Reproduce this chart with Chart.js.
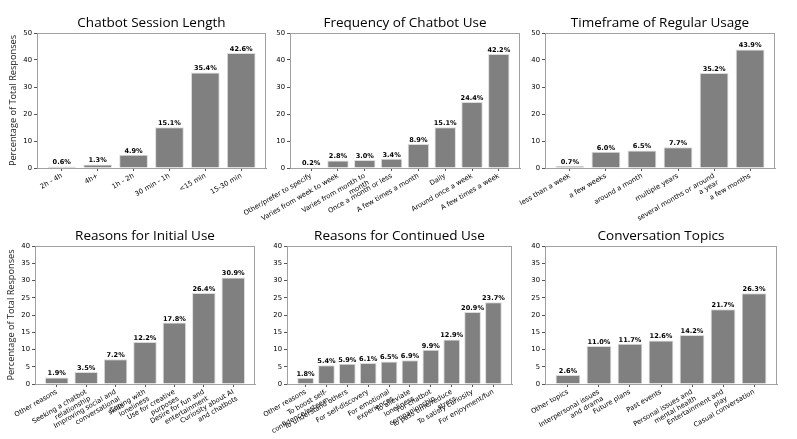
<!DOCTYPE html>
<html><head><meta charset="utf-8">
<script src="https://cdn.jsdelivr.net/npm/chart.js@4.4.1/dist/chart.umd.min.js"></script>
<style>
html,body{margin:0;padding:0;background:#fff;}
#wrap{position:relative;width:797px;height:439px;overflow:hidden;}
canvas{position:absolute;left:0;top:0;}
</style></head><body>
<div id="wrap">
<canvas id="c1" width="797" height="439"></canvas>
<canvas id="c2" width="797" height="439"></canvas>
<canvas id="c3" width="797" height="439"></canvas>
<canvas id="c4" width="797" height="439"></canvas>
<canvas id="c5" width="797" height="439"></canvas>
<canvas id="c6" width="797" height="439"></canvas>
</div>
<script>
// ---- data ----
const sessionLabels = ["2h - 4h","4h+","1h - 2h","30 min - 1h","<15 min","15-30 min"];
const sessionValues = [0.6,1.3,4.9,15.1,35.4,42.6];

const frequencyLabels = ["Other/prefer to specify","Varies from week to week",["Varies from month to","month"],"Once a month or less","A few times a month","Daily","Around once a week","A few times a week"];
const frequencyValues = [0.2,2.8,3.0,3.4,8.9,15.1,24.4,42.2];

const timeframeLabels = ["less than a week","a few weeks","around a month","multiple years",["several months or around","a year"],"a few months"];
const timeframeValues = [0.7,6.0,6.5,7.7,35.2,43.9];

const initialLabels = ["Other reasons",["Seeking a chatbot","relationship"],["Improving social and","conversational","skills"],["Coping with","loneliness"],["Use for creative","purposes"],["Desire for fun and","entertainment"],["Curiosity about AI","and chatbots"]];
const initialValues = [1.9,3.5,7.2,12.2,17.8,26.4,30.9];

const continuedLabels = ["Other reasons",["To boost self-","confidence/esteem."],"To understand others","For self-discovery",["For emotional","experiences"],["To alleviate","loneliness"],["For chatbot","companionship"],["To pass time/reduce","stress"],"To satisfy curiosity","For enjoyment/fun"];
const continuedValues = [1.8,5.4,5.9,6.1,6.5,6.9,9.9,12.9,20.9,23.7];

const topicLabels = ["Other topics",["Interpersonal issues","and drama"],"Future plans","Past events",["Personal issues and","mental health"],["Entertainment and","play"],"Casual conversation"];
const topicValues = [2.6,11.0,11.7,12.6,14.2,21.7,26.3];

const titles = ["Chatbot Session Length","Frequency of Chatbot Use","Timeframe of Regular Usage","Reasons for Initial Use","Reasons for Continued Use","Conversation Topics"];
const yAxisTitle = "Percentage of Total Responses";
const yMaxTop = 50, yStepTop = 10;
const yMaxBottom = 40, yStepBottom = 5;

// ---- layout (plot area boxes) ----
const W = 797, H = 439;
const panels = [
  {id:'c1', labels:sessionLabels, values:sessionValues, title:titles[0], box:[37,33,266,168], ymax:yMaxTop, step:yStepTop, ytitle:true},
  {id:'c2', labels:frequencyLabels, values:frequencyValues, title:titles[1], box:[290,33,520,168], ymax:yMaxTop, step:yStepTop, ytitle:false},
  {id:'c3', labels:timeframeLabels, values:timeframeValues, title:titles[2], box:[545,33,775,168], ymax:yMaxTop, step:yStepTop, ytitle:false},
  {id:'c4', labels:initialLabels, values:initialValues, title:titles[3], box:[35,246,255,384], ymax:yMaxBottom, step:yStepBottom, ytitle:true},
  {id:'c5', labels:continuedLabels, values:continuedValues, title:titles[4], box:[287,246,512,384], ymax:yMaxBottom, step:yStepBottom, ytitle:false},
  {id:'c6', labels:topicLabels, values:topicValues, title:titles[5], box:[545,246,777,384], ymax:yMaxBottom, step:yStepBottom, ytitle:false},
];

const frameAndLabels = {
  id:'frameAndLabels',
  afterDatasetsDraw(chart){
    const ctx = chart.ctx, a = chart.chartArea;
    ctx.save();
    ctx.strokeStyle = '#a0a0a0';
    ctx.lineWidth = 1;
    ctx.strokeRect(Math.round(a.left)+0.5, Math.round(a.top)+0.5, Math.round(a.right-a.left)-1, Math.round(a.bottom-a.top));
    const meta = chart.getDatasetMeta(0);
    const vals = chart.data.datasets[0].data;
    ctx.fillStyle = '#000';
    ctx.font = 'bold 6.6px "DejaVu Sans"';
    ctx.textAlign = 'center';
    ctx.textBaseline = 'bottom';
    meta.data.forEach((el, i) => {
      ctx.fillText(vals[i].y.toFixed(1) + '%', el.x, el.y - 0.5);
    });
    ctx.font = '13.5px "Open Sans"';
    ctx.fillStyle = '#000';
    ctx.textBaseline = 'alphabetic';
    ctx.fillText(chart.options.plugins.panelTitle.text, (a.left + a.right)/2, a.top - 6);
    ctx.restore();
  }
};

panels.forEach(p => {
  const n = p.labels.length;
  const span = (n - 1) + 0.8;
  const xmin = -0.4 - 0.05*span, xmax = (n - 1) + 0.4 + 0.05*span;
  const yW = p.ytitle ? 37 : 25;
  const xH = 60;
  const [L,T,R,B] = p.box;
  new Chart(document.getElementById(p.id), {
    type:'bar',
    data:{ datasets:[{ data:p.values.map((v,i)=>({x:i,y:v})), backgroundColor:'#808080', borderColor:'#dcdcdc', borderWidth:1, categoryPercentage:1.0, barPercentage:0.8 }]},
    options:{
      responsive:false, animation:false, devicePixelRatio:1,
      layout:{ padding:{ left:L - yW, top:T, right:W - R, bottom:H - B - xH } },
      plugins:{ legend:{display:false}, tooltip:{enabled:false}, title:{display:false}, panelTitle:{text:p.title} },
      scales:{
        x:{ type:'linear', min:xmin, max:xmax, offset:false,
          afterBuildTicks: s => { s.ticks = p.labels.map((_,i)=>({value:i})); },
          afterFit: s => { s.height = xH; s.paddingLeft = 0; s.paddingRight = 0; },
          ticks:{ autoSkip:false, minRotation:30, maxRotation:30, padding:1, color:'#000',
            font:{family:'DejaVu Sans', size:6.8, lineHeight:1.15},
            callback:(v)=> p.labels[v] },
          grid:{ offset:false, drawOnChartArea:false, drawTicks:true, tickLength:3, color:'#555' },
          border:{ display:true, color:'#a0a0a0' }
        },
        y:{ min:0, max:p.ymax,
          afterFit: s => { s.width = yW; s.paddingTop = 0; s.paddingBottom = 0; },
          ticks:{ stepSize:p.step, padding:2, color:'#000', font:{family:'DejaVu Sans', size:6.8} },
          grid:{ drawOnChartArea:false, drawTicks:true, tickLength:3, color:'#555' },
          border:{ display:true, color:'#a0a0a0' },
          title:{ display:p.ytitle, text:yAxisTitle, color:'#222', font:{family:'Open Sans', size:9.2}, padding:{top:8,bottom:0} }
        }
      }
    },
    plugins:[frameAndLabels]
  });
});
</script>
</body></html>
